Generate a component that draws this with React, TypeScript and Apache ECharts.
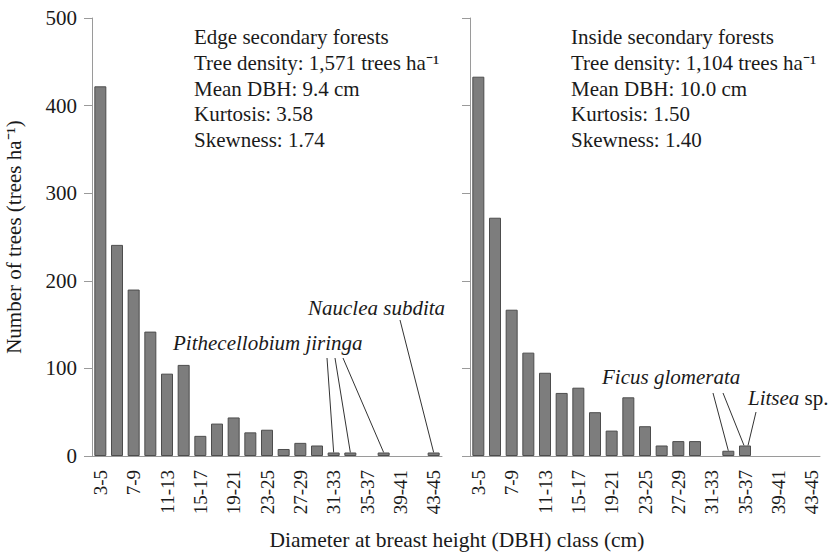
import React, { useEffect, useRef } from 'react';
import * as echarts from 'echarts';

const categories = ['3-5', '5-7', '7-9', '9-11', '11-13', '13-15', '15-17', '17-19', '19-21', '21-23', '23-25', '25-27', '27-29', '29-31', '31-33', '33-35', '35-37', '37-39', '39-41', '41-43', '43-45'];
const edgeValues = [422, 241, 190, 142, 94, 104, 23, 37, 44, 27, 30, 8, 15, 12, 4, 4, 0, 4, 0, 0, 4];
const insideValues = [433, 272, 167, 118, 95, 72, 78, 50, 29, 67, 34, 12, 17, 17, 0, 6, 12, 0, 0, 0, 0];
const yTicks = [0, 100, 200, 300, 400, 500];

const edgeText = ['Edge secondary forests', 'Tree density: 1,571 trees ha⁻¹', 'Mean DBH: 9.4 cm', 'Kurtosis: 3.58', 'Skewness: 1.74'];
const insideText = ['Inside secondary forests', 'Tree density: 1,104 trees ha⁻¹', 'Mean DBH: 10.0 cm', 'Kurtosis: 1.50', 'Skewness: 1.40'];

// annotation pointers: [panel, categoryIndex, label anchor x, label anchor y, x offset at bar]
const pointers: [number, number, number, number, number][] = [
  [0, 14, 327, 358, 0],
  [0, 15, 335, 358, 0],
  [0, 17, 343, 358, 0],
  [0, 20, 400, 320, 0],
  [1, 15, 713, 393, 0],
  [1, 16, 723, 393, -1],
  [1, 16, 756, 412, 3],
];

const FONT = "'Liberation Serif', 'Times New Roman', serif";
const AXIS_GRAY = '#9a9a9a';
const TEXT = '#1a1a1a';

export default function App() {
  const ref = useRef<HTMLDivElement>(null);
  useEffect(() => {
    if (!ref.current) return;
    const chart = echarts.init(ref.current, undefined, { renderer: 'svg' });
    const toData = (arr: number[]) => arr.map((v) => (v === 0 ? '-' : v));
    const xAxisBase = (gridIndex: number) => ({
      type: 'category' as const,
      gridIndex,
      data: categories,
      boundaryGap: true,
      axisLine: { lineStyle: { color: AXIS_GRAY, width: 1 } },
      axisTick: { interval: 0, length: 9, lineStyle: { color: AXIS_GRAY } },
      axisLabel: { interval: 1, rotate: 90, margin: 14, fontFamily: FONT, fontSize: 19, color: TEXT },
    });
    const yAxisBase = (gridIndex: number, showLabel: boolean) => ({
      type: 'value' as const,
      gridIndex,
      min: yTicks[0],
      max: yTicks[yTicks.length - 1],
      interval: 100,
      splitLine: { show: false },
      axisLine: { show: true, lineStyle: { color: AXIS_GRAY, width: 1 } },
      axisTick: { show: true, length: 8, lineStyle: { color: AXIS_GRAY } },
      axisLabel: { show: showLabel, margin: 15, fontFamily: FONT, fontSize: 21, color: TEXT },
    });
    const barStyle = { color: '#7d7d7d', borderColor: '#4d4d4d', borderWidth: 1 };
    chart.setOption({
      animation: false,
      textStyle: { fontFamily: FONT },
      grid: [
        { left: 92, top: 18, width: 350, height: 438 },
        { left: 470, top: 18, width: 350, height: 438 },
      ],
      xAxis: [xAxisBase(0), xAxisBase(1)],
      yAxis: [
        {
          ...yAxisBase(0, true),
          name: 'Number of trees (trees ha⁻¹)',
          nameLocation: 'middle',
          nameGap: 68,
          nameTextStyle: { fontFamily: FONT, fontSize: 21, color: TEXT },
        },
        yAxisBase(1, false),
      ],
      series: [
        { type: 'bar', xAxisIndex: 0, yAxisIndex: 0, data: toData(edgeValues), barCategoryGap: '28%', itemStyle: barStyle },
        { type: 'bar', xAxisIndex: 1, yAxisIndex: 1, data: toData(insideValues), barCategoryGap: '28%', itemStyle: barStyle },
      ],
    });

    const graphics: any[] = [];
    const textBlock = (lines: string[], x: number) =>
      lines.forEach((t, i) =>
        graphics.push({
          type: 'text',
          x,
          y: 37 + i * 25.8,
          style: { text: t, fontFamily: FONT, fontSize: 21, fill: TEXT, textVerticalAlign: 'middle', textAlign: 'left' },
        })
      );
    textBlock(edgeText, 194);
    textBlock(insideText, 571);

    const italic = (text: string, x: number, y: number) =>
      graphics.push({
        type: 'text',
        x,
        y,
        style: { text, fontFamily: FONT, fontStyle: 'italic', fontSize: 21, fill: TEXT, textVerticalAlign: 'middle', textAlign: 'left' },
      });
    italic('Pithecellobium jiringa', 173, 343);
    italic('Nauclea subdita', 308, 308);
    italic('Ficus glomerata', 602, 377);
    graphics.push({
      type: 'text',
      x: 748,
      y: 398,
      style: {
        text: '{i|Litsea} sp.',
        fontFamily: FONT,
        fontSize: 21,
        fill: TEXT,
        textVerticalAlign: 'middle',
        textAlign: 'left',
        rich: { i: { fontFamily: FONT, fontStyle: 'italic', fontSize: 21, fill: TEXT } },
      },
    });

    pointers.forEach(([panel, idx, sx, sy, dx]) => {
      const vals = panel === 0 ? edgeValues : insideValues;
      const p = chart.convertToPixel({ seriesIndex: panel }, [idx, vals[idx]]) as number[];
      graphics.push({
        type: 'line',
        shape: { x1: sx, y1: sy, x2: p[0] + dx, y2: p[1] },
        style: { stroke: '#333', lineWidth: 1 },
      });
    });

    graphics.push({
      type: 'text',
      x: 457,
      y: 540,
      style: {
        text: 'Diameter at breast height (DBH) class (cm)',
        fontFamily: FONT,
        fontSize: 21.5,
        fill: TEXT,
        textAlign: 'center',
        textVerticalAlign: 'middle',
      },
    });

    chart.setOption({ graphic: graphics });
    return () => chart.dispose();
  }, []);
  return <div ref={ref} style={{ position: 'absolute', left: 0, top: 0, width: 830, height: 558 }} />;
}
